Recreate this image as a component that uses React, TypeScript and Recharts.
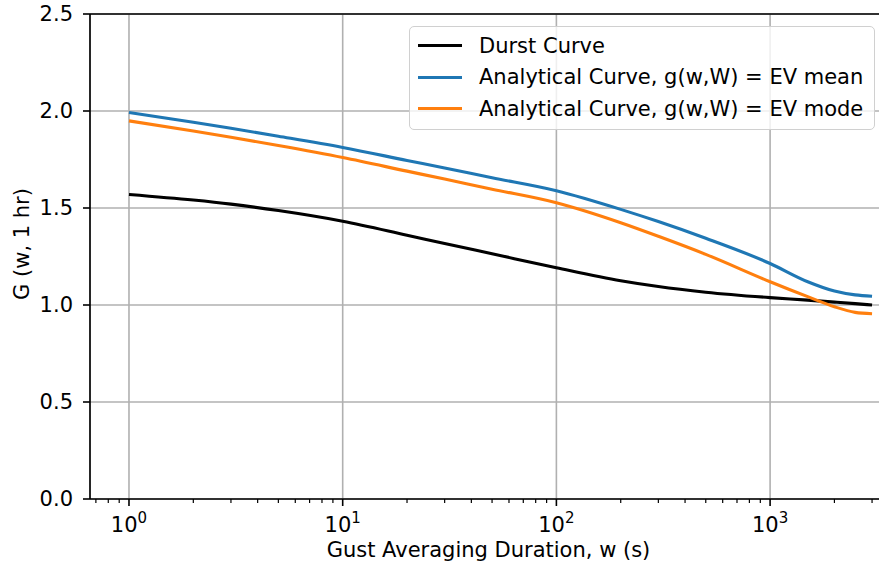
import React from 'react';
import { LineChart, Line, XAxis, YAxis, CartesianGrid, ReferenceLine, Legend } from 'recharts';

// gust averaging duration w (s)
const durations = [1, 2, 3, 5, 10, 20, 30, 50, 100, 200, 300, 500, 1000, 1500, 2000, 2500, 3000];
const durst = [1.570, 1.541, 1.520, 1.487, 1.432, 1.360, 1.317, 1.264, 1.192, 1.125, 1.095, 1.066, 1.038, 1.025, 1.015, 1.007, 1.000];
const evMean = [1.992, 1.942, 1.911, 1.870, 1.812, 1.745, 1.706, 1.656, 1.589, 1.493, 1.430, 1.344, 1.214, 1.120, 1.072, 1.052, 1.045];
const evMode = [1.949, 1.897, 1.865, 1.822, 1.760, 1.690, 1.649, 1.597, 1.527, 1.424, 1.354, 1.261, 1.120, 1.043, 0.991, 0.962, 0.955];

const majorTicks = [1, 10, 100, 1000];
const minorTicks = [0.7, 0.8, 0.9, 2, 3, 4, 5, 6, 7, 8, 9, 20, 30, 40, 50, 60, 70, 80, 90,
  200, 300, 400, 500, 600, 700, 800, 900, 2000, 3000];
const yTicks = [0, 0.5, 1.0, 1.5, 2.0, 2.5];

const series = [
  { key: 'durst', name: 'Durst Curve', color: '#000000' },
  { key: 'mean', name: 'Analytical Curve, g(w,W) = EV mean', color: '#1f77b4' },
  { key: 'mode', name: 'Analytical Curve, g(w,W) = EV mode', color: '#ff7f0e' },
];

const data = durations.map((w, i) => ({ w, durst: durst[i], mean: evMean[i], mode: evMode[i] }));

const FONT = '"DejaVu Sans", sans-serif';

const LogTick = (props: any) => {
  const { x, y, payload } = props;
  const exp = Math.log10(payload.value);
  const isMajor = majorTicks.includes(payload.value);
  return (
    <g>
      <line x1={x} x2={x} y1={y} y2={y + (isMajor ? 7 : 4)} stroke="#000" strokeWidth={isMajor ? 1.6 : 1.2} />
      {isMajor && (
        <text x={x} y={y + 33} textAnchor="middle" fontSize={21} fill="#000" fontFamily={FONT}>
          10<tspan dy={-9} fontSize={15}>{Math.round(exp)}</tspan>
        </text>
      )}
    </g>
  );
};

const LegendBox = () => (
  <div style={{
    border: '1.5px solid #d0d0d0', borderRadius: 5, background: 'rgba(255,255,255,0.8)',
    padding: '3px 8px 4px 8px', fontFamily: FONT, fontSize: 21, color: '#000',
  }}>
    {series.map(s => (
      <div key={s.key} style={{ display: 'flex', alignItems: 'center', height: 31.5 }}>
        <div style={{ width: 44, height: 3, background: s.color, marginRight: 17 }} />
        <span style={{ whiteSpace: 'nowrap' }}>{s.name}</span>
      </div>
    ))}
  </div>
);

export default function App() {
  return (
    <div style={{ position: 'absolute', left: 0, top: 0, width: 879, height: 566, background: '#fff' }}>
      <LineChart width={879} height={566} data={data} margin={{ top: 14, right: 0, bottom: 0, left: 0 }}>
        <CartesianGrid vertical={false} stroke="#b0b0b0" strokeWidth={1.6} />
        {majorTicks.map(t => (
          <ReferenceLine key={t} x={t} stroke="#b0b0b0" strokeWidth={1.6} />
        ))}
        <XAxis
          dataKey="w"
          type="number"
          scale="log"
          domain={[0.657, 3233]}
          allowDataOverflow
          ticks={[...minorTicks, ...majorTicks].sort((a, b) => a - b)}
          interval={0}
          tick={<LogTick />}
          tickLine={false}
          tickSize={0}
          tickMargin={0}
          height={67}
          axisLine={{ stroke: '#000', strokeWidth: 1.7 }}
          label={{
            value: 'Gust Averaging Duration, w (s)', position: 'insideBottom', offset: 9, dx: 4,
            style: { fontSize: 21, fill: '#000', fontFamily: FONT },
          }}
        />
        <YAxis
          type="number"
          domain={[0, 2.5]}
          ticks={yTicks}
          interval={0}
          width={90}
          tickFormatter={(v: number) => v.toFixed(1)}
          tick={{ fontSize: 21, fill: '#000', fontFamily: FONT }}
          tickSize={7}
          tickMargin={10}
          tickLine={{ stroke: '#000', strokeWidth: 1.6 }}
          axisLine={{ stroke: '#000', strokeWidth: 1.7 }}
          label={{
            content: () => (
              <text x={22} y={244} transform="rotate(-90 22 244)" textAnchor="middle"
                dominantBaseline="central" fontSize={21} fill="#000" fontFamily={FONT}>
                G (w, 1 hr)
              </text>
            ),
          }}
        />
        <ReferenceLine y={2.5} stroke="#000" strokeWidth={1.7} />
        {series.map(s => (
          <Line key={s.key} dataKey={s.key} name={s.name} type="monotone" stroke={s.color}
            strokeWidth={3.1} dot={false} activeDot={false} isAnimationActive={false} />
        ))}
        <Legend
          layout="vertical"
          align="center"
          verticalAlign="middle"
          content={<LegendBox />}
          wrapperStyle={{ left: 409, top: 26, width: 466 }}
        />
      </LineChart>
    </div>
  );
}
